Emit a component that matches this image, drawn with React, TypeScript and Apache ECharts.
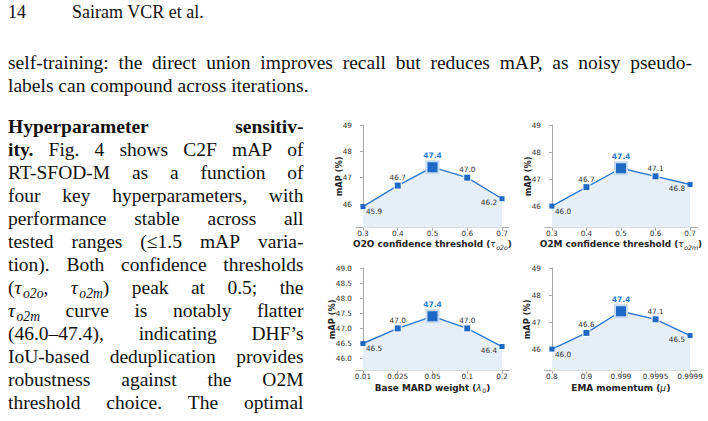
import React, { useEffect, useRef } from 'react';
import * as echarts from 'echarts';

// ---------- data ----------
const o2oTicks = ['0.3', '0.4', '0.5', '0.6', '0.7'];
const o2oValues = [45.9, 46.7, 47.4, 47.0, 46.2];
const o2mTicks = ['0.3', '0.4', '0.5', '0.6', '0.7'];
const o2mValues = [46.0, 46.7, 47.4, 47.1, 46.8];
const mardTicks = ['0.01', '0.025', '0.05', '0.1', '0.2'];
const mardValues = [46.5, 47.0, 47.4, 47.0, 46.4];
const emaTicks = ['0.8', '0.9', '0.999', '0.9995', '0.9999'];
const emaValues = [46.0, 46.6, 47.4, 47.1, 46.5];
const yTicksInt = [46, 47, 48, 49];
const yTicksHalf = [46, 46.5, 47, 47.5, 48, 48.5, 49];

// ---------- page text ----------
const headerNum = '14';
const headerAuthor = 'Sairam VCR et al.';
const topLine1 = 'self-training: the direct union improves recall but reduces mAP, as noisy pseudo-';
const topLine2 = 'labels can compound across iterations.';
const bodyLines = [
  '*Hyperparameter *sensitiv-',
  '*ity. Fig. 4 shows C2F mAP of',
  'RT-SFOD-M as a function of',
  'four key hyperparameters, with',
  'performance stable across all',
  'tested ranges (≤1.5 mAP varia-',
  'tion). Both confidence thresholds',
  '(τ_o2o, τ_o2m) peak at 0.5; the',
  'τ_o2m curve is notably flatter',
  '(46.0–47.4), indicating DHF’s',
  'IoU-based deduplication provides',
  'robustness against the O2M',
  'threshold choice. The optimal',
];

type Part = { t: string; k: string };

const LINE = '#2a78d3';
const MARK = '#1c68c4';
const PEAK = '#2f7ed7';
const AREA = '#e6eef8';
const AX = '#a8a8a8';
const SERIF = '"Liberation Serif", "Times New Roman", serif';
const SANS = '"DejaVu Sans", sans-serif';

let ctx: CanvasRenderingContext2D | null = null;
function measure(text: string, font: string) {
  if (!ctx) ctx = document.createElement('canvas').getContext('2d');
  ctx!.font = font;
  return ctx!.measureText(text).width;
}

function parseToken(tok: string): Part[] {
  if (tok.startsWith('*')) return [{ t: tok.slice(1), k: 'b' }];
  const parts: Part[] = [];
  let buf = '';
  let i = 0;
  const flush = () => { if (buf) { parts.push({ t: buf, k: 'r' }); buf = ''; } };
  while (i < tok.length) {
    const c = tok[i];
    if (c === 'τ' || c === 'λ' || c === 'μ') { flush(); parts.push({ t: c, k: 'i' }); i++; }
    else if (c === '_') {
      flush();
      let j = i + 1;
      while (j < tok.length && /[a-z0-9]/i.test(tok[j])) j++;
      parts.push({ t: tok.slice(i + 1, j), k: 's' });
      i = j;
    } else { buf += c; i++; }
  }
  flush();
  return parts;
}

function fontSpec(k: string, size: number, family: string, baseBold: boolean) {
  if (k === 'b') return { size, weight: 'bold', style: 'normal', dy: 0, family };
  if (k === 'i') return { size, weight: 'normal', style: 'italic', dy: 0, family };
  if (k === 's') return { size: size * 0.7, weight: 'normal', style: 'italic', dy: size * 0.2, family };
  if (k === 'sr') return { size: size * 0.7, weight: 'normal', style: 'normal', dy: size * 0.2, family };
  return { size, weight: baseBold ? 'bold' : 'normal', style: 'normal', dy: 0, family };
}
function css(f: any) { return `${f.style} ${f.weight} ${f.size}px ${f.family}`; }

function textEl(t: string, x: number, baseline: number, f: any, fill: string, align = 'left') {
  const central = f.family === SERIF ? 0.3375 : 0.346;
  return {
    type: 'text', silent: true, x, y: baseline + f.dy - central * f.size,
    style: { text: t, fontSize: f.size, fontFamily: f.family, fontWeight: f.weight, fontStyle: f.style, fill, align, verticalAlign: 'middle' },
  };
}

// small extra kerning after an italic letter followed by a subscript / bracket
function partGap(parts: Part[], i: number, size: number) {
  return parts[i].k === 'i' && i + 1 < parts.length ? size * 0.08 : 0;
}
function runWidth(parts: Part[], size: number, family: string, baseBold = false) {
  return parts.reduce((s, p, i) => s + measure(p.t, css(fontSpec(p.k, size, family, baseBold))) + partGap(parts, i, size), 0);
}
function runEls(parts: Part[], x: number, baseline: number, size: number, family: string, fill: string, baseBold = false) {
  const els: any[] = [];
  let cx = x;
  parts.forEach((p, i) => {
    const f = fontSpec(p.k, size, family, baseBold);
    els.push(textEl(p.t, cx, baseline, f, fill));
    cx += measure(p.t, css(f)) + partGap(parts, i, size);
  });
  return els;
}

function lineEls(line: string, x0: number, x1: number, baseline: number, size: number, justify: boolean) {
  const words = line.split(' ').map(parseToken);
  const widths = words.map((w) => runWidth(w, size, SERIF));
  const total = widths.reduce((a, b) => a + b, 0);
  const space = measure(' ', css(fontSpec('r', size, SERIF, false)));
  const gap = justify && words.length > 1 ? (x1 - x0 - total) / (words.length - 1) : space;
  const els: any[] = [];
  let x = x0;
  words.forEach((w, i) => {
    els.push(...runEls(w, x, baseline, size, SERIF, '#111'));
    x += widths[i] + gap;
  });
  return els;
}

const panels = [
  { ticks: o2oTicks, values: o2oValues, yMin: 45.1, yTicks: yTicksInt, dec: 0, left: 356, top: 125, w: 153, h: 102.7, ylx: 339, title: 'O2O confidence threshold (|τ|_o2o|)' },
  { ticks: o2mTicks, values: o2mValues, yMin: 45.2, yTicks: yTicksInt, dec: 0, left: 545, top: 125, w: 152, h: 102.7, ylx: 528, title: 'O2M confidence threshold (|τ|_o2m|)' },
  { ticks: mardTicks, values: mardValues, yMin: 45.6, yTicks: yTicksHalf, dec: 1, left: 356, top: 268, w: 153, h: 102.7, ylx: 331.5, title: 'Base MARD weight (|λ|~0|)' },
  { ticks: emaTicks, values: emaValues, yMin: 45.2, yTicks: yTicksInt, dec: 0, left: 545, top: 268, w: 152, h: 102.7, ylx: 527, title: 'EMA momentum (|μ|)' },
];

function titleParts(s: string): Part[] {
  return s.split('|').filter((x) => x).map((seg) => {
    if (seg === 'τ' || seg === 'λ' || seg === 'μ') return { t: seg, k: 'i' };
    if (seg.startsWith('_')) return { t: seg.slice(1), k: 's' };
    if (seg.startsWith('~')) return { t: seg.slice(1), k: 'sr' };
    return { t: seg, k: 'b' };
  });
}

function buildGraphics() {
  const els: any[] = [];
  // header
  const hSize = 17 * 132 / measure(headerAuthor, `normal normal 17px ${SERIF}`);
  els.push(textEl(headerNum, 8, 18.5, fontSpec('r', hSize, SERIF, false), '#111'));
  els.push(textEl(headerAuthor, 72, 18.5, fontSpec('r', hSize, SERIF, false), '#111'));
  // body size
  const S = 0.97 * 20 * 310 / measure(topLine2, `normal normal 20px ${SERIF}`);
  els.push(...lineEls(topLine1, 8, 692, 69.3, S, true));
  els.push(...lineEls(topLine2, 8, 692, 92.3, S, false));
  bodyLines.forEach((l, i) => {
    els.push(...lineEls(l, 8, 303.5, 132.7 + 23.05 * i, S, true));
  });
  // chart titles
  const t0 = titleParts(panels[0].title);
  const T = 9 * 159 / runWidth(t0, 9, SANS, true);
  panels.forEach((p, i) => {
    const parts = titleParts(p.title);
    const w = runWidth(parts, T, SANS, true);
    const cx = p.left + p.w / 2;
    const cy = i < 2 ? 244.3 : 388;
    els.push(...runEls(parts, cx - w / 2, cy + 0.346 * T, T, SANS, '#222', true));
    els.push({
      type: 'text', silent: true, x: p.ylx, y: p.top + p.h / 2, rotation: Math.PI / 2,
      style: { text: 'mAP (%)', fontSize: 8.3, fontFamily: SANS, fontWeight: 'bold', fill: '#222', align: 'center', verticalAlign: 'middle' },
    });
  });
  return els;
}

function point(v: number, j: number, values: number[]) {
  const n = values.length;
  const peak = values.indexOf(Math.max(...values));
  const baseLabel = { show: true, position: 'inside', fontSize: 7.3, color: '#333', fontFamily: SANS, formatter: v.toFixed(1) };
  if (j === peak) {
    return {
      value: [j, v], symbolSize: 12,
      itemStyle: { color: MARK, borderColor: '#c6daf2', borderWidth: 2 },
      label: { ...baseLabel, offset: [0, -12], fontWeight: 'bold', fontSize: 7.6, color: PEAK },
    };
  }
  if (j === 0) {
    return { value: [j, v], symbolSize: 5, itemStyle: { color: MARK }, label: { ...baseLabel, align: 'left', offset: [3, 5] } };
  }
  if (j === n - 1) {
    return { value: [j, v], symbolSize: 5, itemStyle: { color: MARK }, label: { ...baseLabel, align: 'right', offset: [-5, 4] } };
  }
  return {
    value: [j, v], symbolSize: 7,
    itemStyle: { color: MARK, borderColor: '#ffffff', borderWidth: 1 },
    label: { ...baseLabel, offset: [0, -8] },
  };
}

export default function App() {
  const ref = useRef<HTMLDivElement>(null);
  useEffect(() => {
    if (!ref.current) return;
    const chart = echarts.init(ref.current, null, { renderer: 'svg' });
    const idx = [0, 1, 2, 3, 4];
    const option: any = {
      animation: false,
      backgroundColor: '#ffffff',
      grid: panels.map((p) => ({ left: p.left, top: p.top, width: p.w, height: p.h, containLabel: false })),
      xAxis: panels.map((p, i) => ({
        type: 'value', gridIndex: i, min: -0.2, max: 4.2,
        axisLine: { show: true, lineStyle: { color: AX, width: 1 } },
        axisTick: { show: true, length: 3, customValues: idx, lineStyle: { color: AX } },
        axisLabel: { customValues: idx, formatter: (v: number) => p.ticks[Math.round(v)] ?? '', fontSize: 7.3, color: '#333', fontFamily: SANS, margin: 2 },
        splitLine: { show: false },
      })),
      yAxis: panels.map((p, i) => ({
        type: 'value', gridIndex: i, min: p.yMin, max: 49,
        axisLine: { show: true, lineStyle: { color: AX, width: 1 } },
        axisTick: { show: true, length: 3, customValues: p.yTicks, lineStyle: { color: AX } },
        axisLabel: { customValues: p.yTicks, formatter: (v: number) => v.toFixed(p.dec), fontSize: 7.3, color: '#333', fontFamily: SANS, margin: 4 },
        splitLine: { show: false },
      })),
      series: panels.map((p, i) => ({
        type: 'line', xAxisIndex: i, yAxisIndex: i, symbol: 'rect', showAllSymbol: true,
        lineStyle: { color: LINE, width: 1.4 },
        areaStyle: { color: AREA, opacity: 1, origin: 'start' },
        itemStyle: { color: MARK },
        data: p.values.map((v, j) => point(v, j, p.values)),
        silent: true,
      })),
      graphic: buildGraphics(),
    };
    chart.setOption(option);
    return () => chart.dispose();
  }, []);
  return <div ref={ref} style={{ position: 'absolute', left: 0, top: 0, width: 708, height: 421 }} />;
}
